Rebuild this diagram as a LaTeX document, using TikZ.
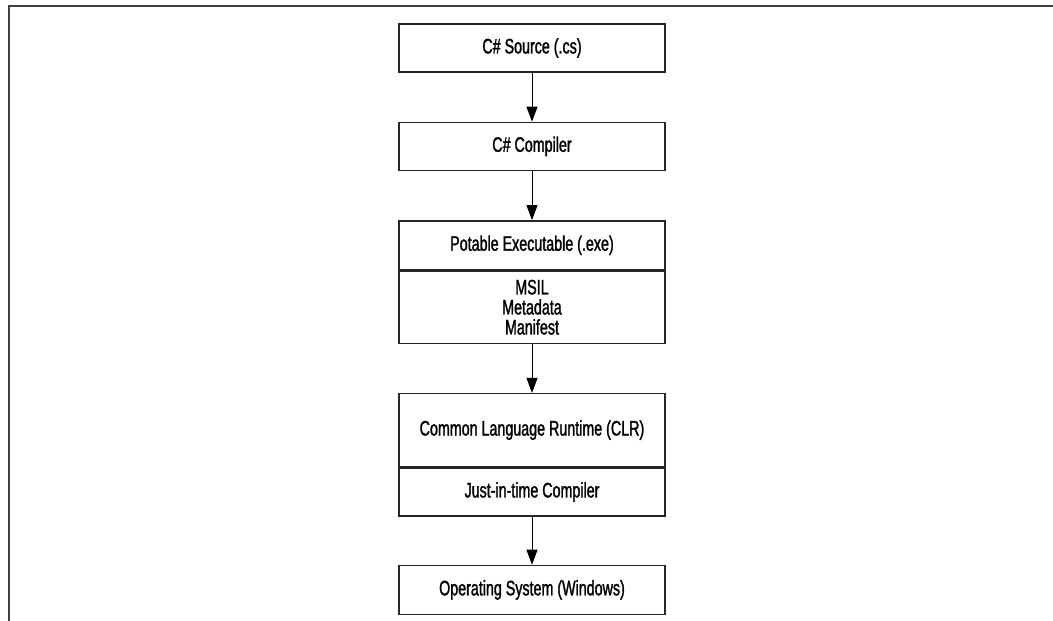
\documentclass[tikz,border=0pt]{standalone}
\usepackage{fontspec}
\setmainfont{Liberation Sans}[FakeStretch=0.68, FakeBold=1.4]
\usetikzlibrary{positioning,arrows.meta}

\begin{document}
\begin{tikzpicture}[
  x=1pt, y=-1pt,
  >={Triangle[length=15pt, width=11pt]},
  node distance=49pt,
  box/.style={rectangle, draw=black!85, line width=1.4pt, minimum width=266pt, minimum height=48pt, align=center, inner sep=2pt, font=\fontsize{21}{20}\selectfont},
  arrow/.style={->, line width=1pt},
]
  \useasboundingbox (0,0) rectangle (1053,621);

  % frame, open at right and bottom
  \draw[line width=2pt, black!75] (9,621) -- (9,6) -- (1053,6);

  % chain of stages
  \node[box] (src) at (532,48) {C\# Source (.cs)};
  \node[box, below=of src] (csc) {C\# Compiler};
  \node[box, below=of csc, minimum height=49pt] (exe) {Potable Executable (.exe)};
  \node[box, below=0pt of exe, minimum height=72pt] (parts) {MSIL\\Metadata\\Manifest};
  \node[box, below=of parts, minimum height=73pt] (clr) {Common Language Runtime (CLR)};
  \node[box, below=0pt of clr] (jit) {Just-in-time Compiler};
  \node[box, below=48pt of jit, minimum height=49pt] (os) {Operating System (Windows)};

  % arrows
  \draw[arrow] (src) -- (csc);
  \draw[arrow] (csc) -- (exe);
  \draw[arrow] (parts) -- (clr);
  \draw[arrow] (jit) -- (os);
\end{tikzpicture}
\end{document}
